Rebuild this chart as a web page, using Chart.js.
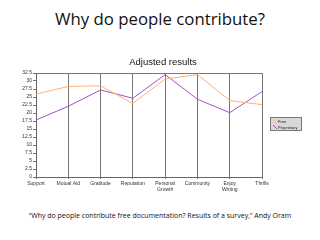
<!DOCTYPE html>
<html>
<head>
<meta charset="utf-8">
<script src="https://cdn.jsdelivr.net/npm/chart.js@4/dist/chart.umd.min.js"></script>
<style>
  html, body { margin: 0; padding: 0; background: #fff; }
  body { width: 320px; height: 240px; position: relative; overflow: hidden; font-family: 'Open Sans', sans-serif; }
  #title { position: absolute; left: 0; top: 7px; width: 320px; text-align: center; font-size: 16.8px; color: #111; }
  #chartBox { position: absolute; left: 0; top: 55px; width: 320px; height: 150px; }
  #source { position: absolute; left: 0; top: 211px; width: 320px; text-align: center; font-size: 7px; color: #111; }
</style>
</head>
<body>
<div id="title">Why do people contribute?</div>
<div id="chartBox"><canvas id="myChart" width="320" height="150"></canvas></div>
<div id="source">“Why do people contribute free documentation? Results of a survey,” Andy Oram</div>
<script>
// 카테고리와 값
const categories = ['Support', 'Mutual Aid', 'Gratitude', 'Reputation', ['Personal', 'Growth'], 'Community', ['Enjoy', 'Writing'], 'Thrills'];
const freeValues = [25.9, 28.3, 28.5, 23.0, 30.6, 32.0, 23.9, 22.6];
const proprietaryValues = [17.8, 22.1, 27.2, 24.6, 32.0, 24.3, 20.1, 26.7];
const yTicks = [0, 2.5, 5, 7.5, 10, 12.5, 15, 17.5, 20, 22.5, 25, 27.5, 30, 32.5];

const chartTitle = 'Adjusted results';
const tickFont = { family: 'Liberation Sans, Arial, sans-serif', size: 5 };

// 제목 + 범례를 직접 그림
const extras = {
  id: 'extras',
  afterDraw: (chart) => {
    const ctx = chart.ctx;
    ctx.save();
    ctx.fillStyle = '#111';
    ctx.font = '9.5px Liberation Sans, Arial, sans-serif';
    ctx.textAlign = 'center';
    ctx.textBaseline = 'middle';
    ctx.fillText(chartTitle, 163, 7);

    // legend box
    const lx = 270, ly = 62, lw = 32, lh = 14;
    ctx.fillStyle = '#d9d9d9';
    ctx.fillRect(lx, ly, lw, lh);
    ctx.strokeStyle = '#777';
    ctx.lineWidth = 1;
    ctx.strokeRect(lx + 0.5, ly + 0.5, lw - 1, lh - 1);
    ctx.font = '4px Liberation Sans, Arial, sans-serif';
    ctx.textAlign = 'left';
    chart.data.datasets.forEach((ds, i) => {
      const y = ly + 4 + i * 6;
      ctx.strokeStyle = ds.borderColor;
      ctx.beginPath();
      ctx.moveTo(lx + 3, y - 2);
      ctx.lineTo(lx + 7, y + 2);
      ctx.stroke();
      ctx.fillStyle = '#222';
      ctx.fillText(ds.label, lx + 8, y + 0.5);
    });
    ctx.restore();
  },
};

const config = {
  type: 'line',
  data: {
    labels: categories,
    datasets: [
      {
        label: 'Free',
        data: freeValues,
        borderColor: '#ffb072',
        backgroundColor: '#ffb072',
        borderWidth: 1,
        pointRadius: 0,
        tension: 0,
      },
      {
        label: 'Proprietary',
        data: proprietaryValues,
        borderColor: '#a352c4',
        backgroundColor: '#a352c4',
        borderWidth: 1,
        pointRadius: 0,
        tension: 0,
      },
    ],
  },
  options: {
    responsive: false,
    animation: false,
    layout: { padding: { left: 0, right: 58, top: 18, bottom: 0 } },
    plugins: {
      legend: { display: false },
      title: { display: false },
      tooltip: { enabled: false },
    },
    scales: {
      x: {
        offset: false,
        grid: {
          color: '#777',
          lineWidth: 1,
          drawTicks: true,
          tickLength: 2,
          tickColor: '#777',
        },
        border: { color: '#666' },
        ticks: {
          font: tickFont,
          color: '#333',
          padding: 2,
          maxRotation: 0,
          autoSkip: false,
        },
        afterFit: (s) => { s.height = 28; },
      },
      y: {
        min: 0,
        max: 32.5,
        afterBuildTicks: (s) => { s.ticks = yTicks.map((v) => ({ value: v })); },
        grid: {
          color: (c) => (c.tick && c.tick.value === 32.5 ? '#777' : 'transparent'),
          tickColor: '#777',
          tickLength: 3,
          drawTicks: true,
        },
        border: { color: '#666' },
        ticks: {
          font: tickFont,
          color: '#333',
          padding: 1,
          autoSkip: false,
        },
        afterFit: (s) => { s.width = 36; },
      },
    },
  },
  plugins: [extras],
};

const myChart = new Chart(document.getElementById('myChart'), config);
</script>
</body>
</html>
